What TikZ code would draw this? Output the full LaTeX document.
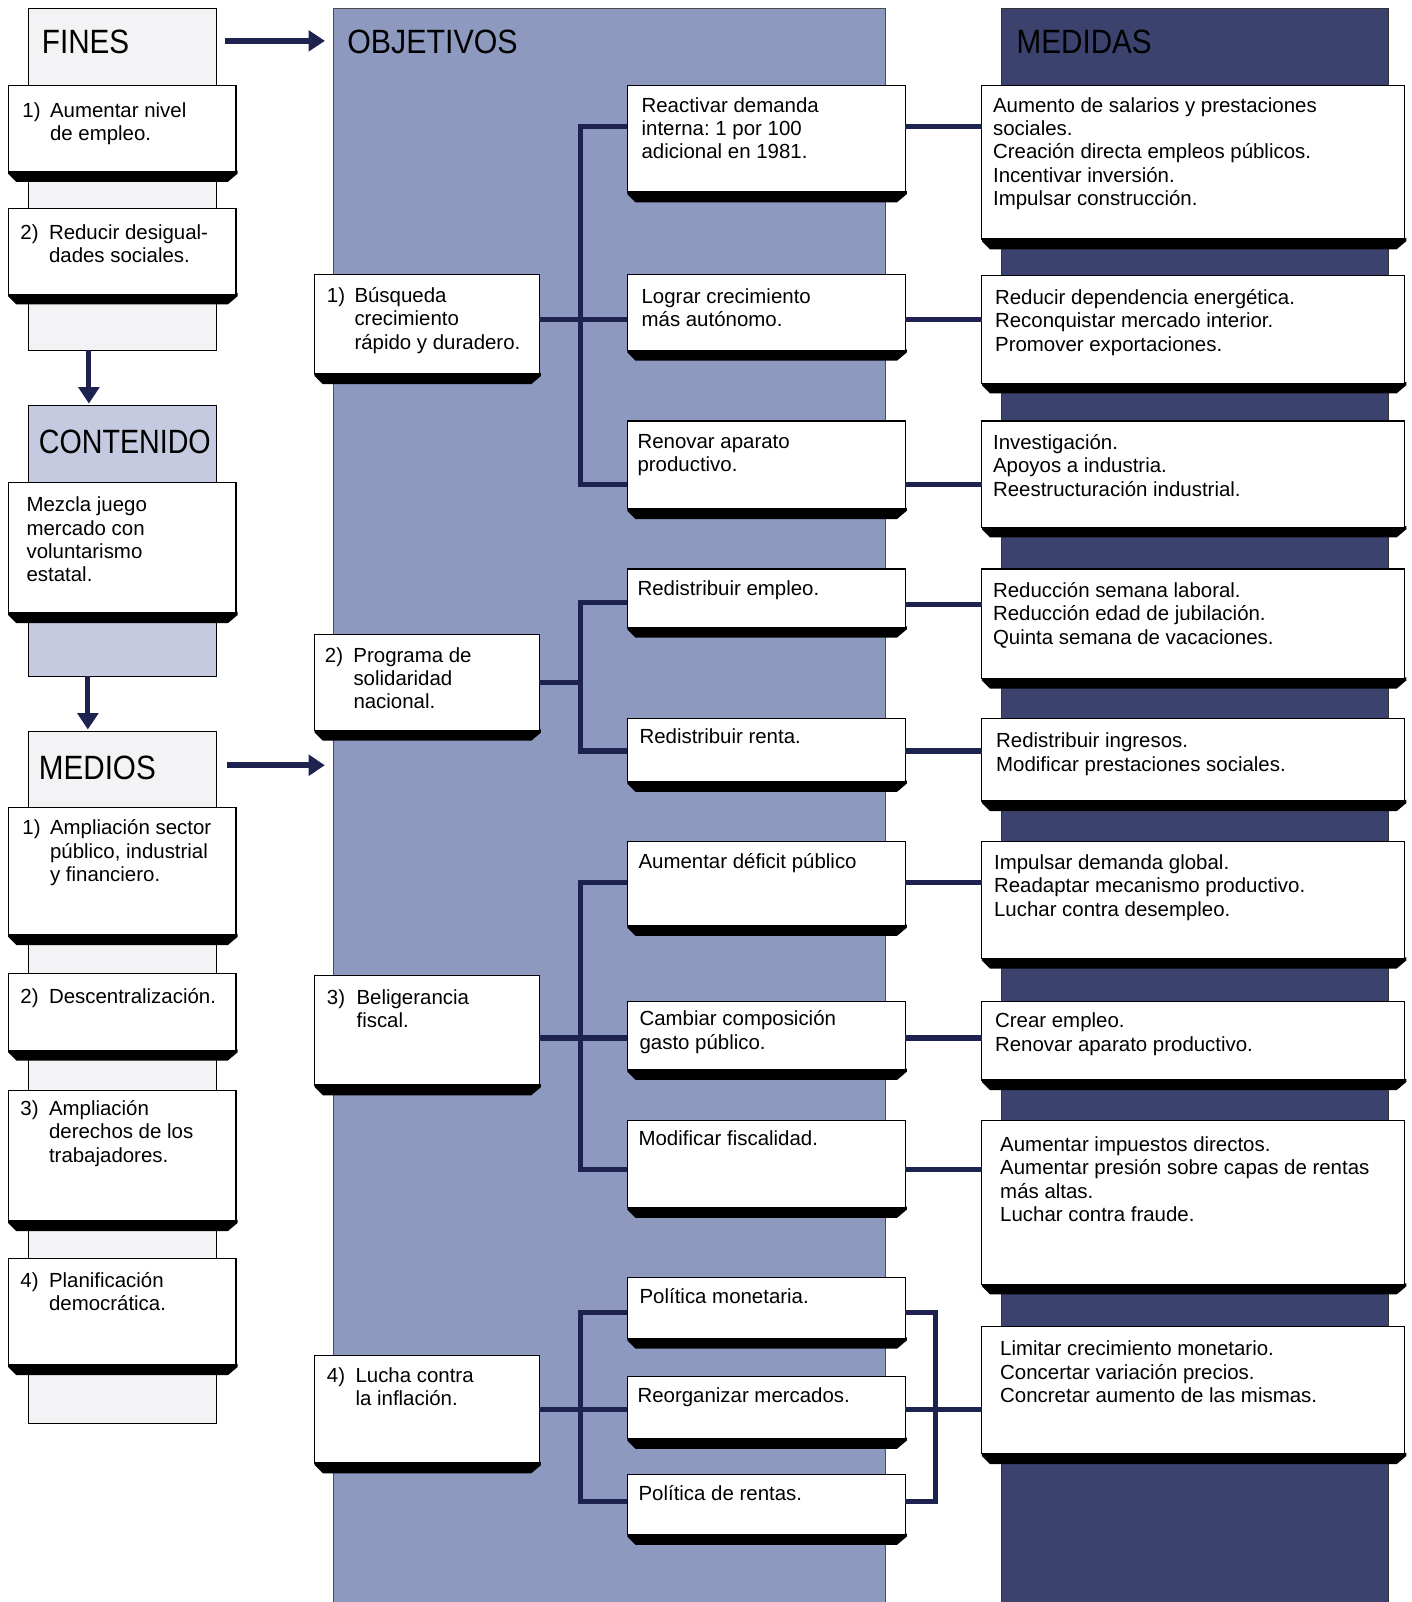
\documentclass[tikz,border=0pt]{standalone}
\usepackage{fontspec}
\setmainfont{Liberation Sans}
\usetikzlibrary{arrows.meta,calc}
\definecolor{objc}{RGB}{141,153,191}
\definecolor{medc}{RGB}{60,66,110}
\definecolor{contc}{RGB}{198,202,224}
\definecolor{tabc}{RGB}{243,243,245}
\definecolor{navy}{RGB}{30,34,78}
\newcommand\bfnt{\fontsize{20}{22.8}\selectfont}
\newcommand\hfnt{\fontsize{33}{36}\selectfont}
\newcommand\nb[1]{\makebox[27pt][l]{#1}}
\newcommand\ib{\hspace*{27pt}}
\frenchspacing
\tikzset{
  boxst/.style={draw=black, line width=1.2pt, fill=white, inner sep=0pt, outer sep=0pt},
  tabst/.style={draw=black, line width=1pt, inner sep=0pt, outer sep=0pt, anchor=north west},
  panelst/.style={inner sep=0pt, outer sep=0pt, anchor=north west},
  conn/.style={draw=navy, line width=5pt, line join=miter},
  arr/.style={draw=navy, line width=6pt, -{Triangle[length=16pt,width=20pt]}},
  txtst/.style={anchor=base west, inner sep=0pt, outer sep=0pt, font=\bfnt},
  headst/.style={anchor=base west, inner sep=0pt, outer sep=0pt, font=\hfnt}
}
\newcommand\mybox[5]{%
  \fill[black] (#2,#5-1) -- (#4+1.5,#5-1) -- (#4+1.5,#5+2) -- (#4-8,#5+10) -- (#2+8,#5+10) -- (#2,#5+2) -- cycle;
  \node[boxst, minimum width={#4-#2}, minimum height={#5-#3}, anchor=north west] (#1) at (#2,#3) {};}
\newcommand\txt[4]{\node[txtst] (#1) at (#2,#3) {\begin{tabular}[t]{@{}l@{}}#4\end{tabular}};}
\begin{document}
\begin{tikzpicture}[x=1pt,y=-1pt]
\useasboundingbox (0,0) rectangle (1382,1568);
\fill[white] (0,0) rectangle (1382,1568);
% panels
\node[panelst, fill=objc, minimum width=541, minimum height=1560] (objP) at (326,8) {};
\draw[black!70, line width=1pt] (objP.south west) -- (objP.north west) -- (objP.north east) -- (objP.south east);
\node[panelst, fill=medc, minimum width=379, minimum height=1560] (medP) at (980,8) {};
\draw[black!80, line width=1pt] (medP.south west) -- (medP.north west) -- (medP.north east) -- (medP.south east);
% left tabs
\node[tabst, fill=tabc, minimum width=184, minimum height=335] (finesTab) at (28,8) {};
\node[tabst, fill=contc, minimum width=184, minimum height=265] (contTab) at (28,397) {};
\node[tabst, fill=tabc, minimum width=184, minimum height=677] (mediosTab) at (28,716) {};
% headers
\node[headst] (hFines) at (41,52) {\scalebox{0.88}[1]{FINES}};
\node[headst] (hObj) at (340,52) {\scalebox{0.9}[1]{OBJETIVOS}};
\node[headst] (hMed) at (995,52) {\scalebox{0.88}[1]{MEDIDAS}};
\node[headst] (hCont) at (38,444) {\scalebox{0.85}[1]{CONTENIDO}};
\node[headst] (hMedios) at (38,763) {\scalebox{0.88}[1]{MEDIOS}};
% arrows
\draw[arr, shorten >=8pt] ($(finesTab.north east)+(8,32)$) -- ($(objP.west |- finesTab.north east)+(0,32)$);
\draw[arr, shorten >=8pt] ($(mediosTab.north east)+(10,33)$) -- ($(objP.west |- mediosTab.north east)+(0,33)$);
\draw[arr, line width=5pt, shorten >=2pt] ($(finesTab.south west)+(59,0)$) -- ($(contTab.north west)+(59,0)$);
\draw[arr, line width=5pt, shorten >=2pt] ($(contTab.south west)+(58,0)$) -- ($(mediosTab.north west)+(58,0)$);
% boxes: left column
\mybox{f1}{8}{84}{231}{168}
\mybox{f2}{8}{204}{231}{288}
\mybox{c1}{8}{472}{231}{600}
\mybox{m1}{8}{790}{231}{915}
\mybox{m2}{8}{953}{231}{1028}
\mybox{m3}{8}{1067}{231}{1195}
\mybox{m4}{8}{1232}{231}{1336}
% objective boxes
\mybox{o1}{308}{269}{528}{366}
\mybox{o2}{308}{621}{528}{715}
\mybox{o3}{308}{955}{528}{1062}
\mybox{o4}{308}{1327}{528}{1432}
% sub-objective boxes
\mybox{s1}{614}{84}{886}{188}
\mybox{s2}{614}{269}{886}{343}
\mybox{s3}{614}{412}{886}{498}
\mybox{s4}{614}{557}{886}{614}
\mybox{s5}{614}{703}{886}{765}
\mybox{s6}{614}{824}{886}{906}
\mybox{s7}{614}{980}{886}{1047}
\mybox{s8}{614}{1097}{886}{1182}
\mybox{s9}{614}{1250}{886}{1310}
\mybox{s10}{614}{1347}{886}{1408}
\mybox{s11}{614}{1443}{886}{1502}
% medidas boxes
\mybox{d1}{961}{84}{1375}{234}
\mybox{d2}{961}{270}{1375}{375}
\mybox{d3}{961}{412}{1375}{516}
\mybox{d4}{961}{557}{1375}{664}
\mybox{d5}{961}{703}{1375}{784}
\mybox{d6}{961}{824}{1375}{938}
\mybox{d7}{961}{980}{1375}{1057}
\mybox{d8}{961}{1097}{1375}{1257}
\mybox{d9}{961}{1298}{1375}{1423}
% connectors
\draw[conn] (s1.west |- 0,124) -| (568,474) -- (s3.west |- 0,474);
\draw[conn] (o1.east |- 0,313) -- (s2.west |- 0,313);
\draw[conn] (s4.west |- 0,590) -| (568,735) -- (s5.west |- 0,735);
\draw[conn] (o2.east |- 0,668) -- (568,668);
\draw[conn] (s6.west |- 0,864) -| (568,1145) -- (s8.west |- 0,1145);
\draw[conn] (o3.east |- 0,1016) -- (s7.west |- 0,1016);
\draw[conn] (s9.west |- 0,1285) -| (568,1470) -- (s11.west |- 0,1470);
\draw[conn] (o4.east |- 0,1380) -- (s10.west |- 0,1380);
\draw[conn] (s9.east |- 0,1285) -| (916,1470) -- (s11.east |- 0,1470);
\draw[conn] (s10.east |- 0,1380) -- (d9.west |- 0,1380);
\draw[conn] (s1.east |- 0,124) -- (d1.west |- 0,124);
\draw[conn] (s2.east |- 0,313) -- (d2.west |- 0,313);
\draw[conn] (s3.east |- 0,474) -- (d3.west |- 0,474);
\draw[conn] (s4.east |- 0,592) -- (d4.west |- 0,592);
\draw[conn] (s5.east |- 0,735) -- (d5.west |- 0,735);
\draw[conn] (s6.east |- 0,864) -- (d6.west |- 0,864);
\draw[conn] (s7.east |- 0,1016) -- (d7.west |- 0,1016);
\draw[conn] (s8.east |- 0,1145) -- (d8.west |- 0,1145);
% texts left
\txt{tf1}{22}{115}{\nb{1)}Aumentar nivel\\\ib de empleo.}
\txt{tf2}{20}{234}{\makebox[28pt][l]{2)}Reducir desigual-\\\hspace*{28pt}dades sociales.}
\txt{tc1}{26}{501}{Mezcla juego\\mercado con\\voluntarismo\\estatal.}
\txt{tm1}{22}{817}{\nb{1)}Ampliación sector\\\ib público, industrial\\\ib y financiero.}
\txt{tm2}{20}{982}{\makebox[28pt][l]{2)}Descentralización.}
\txt{tm3}{20}{1092}{\makebox[28pt][l]{3)}Ampliación\\\hspace*{28pt}derechos de los\\\hspace*{28pt}trabajadores.}
\txt{tm4}{20}{1260}{\makebox[28pt][l]{4)}Planificación\\\hspace*{28pt}democrática.}
% texts objectives
\txt{to1}{320}{296}{\nb{1)}Búsqueda\\\ib crecimiento\\\ib rápido y duradero.}
\txt{to2}{318}{648}{\makebox[28pt][l]{2)}Programa de\\\hspace*{28pt}solidaridad\\\hspace*{28pt}nacional.}
\txt{to3}{320}{983}{\makebox[29pt][l]{3)}Beligerancia\\\hspace*{29pt}fiscal.}
\txt{to4}{320}{1353}{\makebox[28pt][l]{4)}Lucha contra\\\hspace*{28pt}la inflación.}
% texts sub-objectives
\txt{ts1}{628}{110}{Reactivar demanda\\interna: 1 por 100\\adicional en 1981.}
\txt{ts2}{628}{297}{Lograr crecimiento\\más autónomo.}
\txt{ts3}{624}{439}{Renovar aparato\\productivo.}
\txt{ts4}{624}{583}{Redistribuir empleo.}
\txt{ts5}{626}{728}{Redistribuir renta.}
\txt{ts6}{625}{850}{Aumentar déficit público}
\txt{ts7}{626}{1004}{Cambiar composición\\gasto público.}
\txt{ts8}{625}{1121}{Modificar fiscalidad.}
\txt{ts9}{626}{1276}{Política monetaria.}
\txt{ts10}{624}{1373}{Reorganizar mercados.}
\txt{ts11}{625}{1469}{Política de rentas.}
% texts medidas
\txt{td1}{972}{110}{Aumento de salarios y prestaciones\\sociales.\\Creación directa empleos públicos.\\Incentivar inversión.\\Impulsar construcción.}
\txt{td2}{974}{298}{Reducir dependencia energética.\\Reconquistar mercado interior.\\Promover exportaciones.}
\txt{td3}{972}{440}{Investigación.\\Apoyos a industria.\\Reestructuración industrial.}
\txt{td4}{972}{585}{Reducción semana laboral.\\Reducción edad de jubilación.\\Quinta semana de vacaciones.}
\txt{td5}{975}{732}{Redistribuir ingresos.\\Modificar prestaciones sociales.}
\txt{td6}{973}{851}{Impulsar demanda global.\\Readaptar mecanismo productivo.\\Luchar contra desempleo.}
\txt{td7}{974}{1006}{Crear empleo.\\Renovar aparato productivo.}
\txt{td8}{979}{1127}{Aumentar impuestos directos.\\Aumentar presión sobre capas de rentas\\más altas.\\Luchar contra fraude.}
\txt{td9}{979}{1327}{Limitar crecimiento monetario.\\Concertar variación precios.\\Concretar aumento de las mismas.}
\end{tikzpicture}
\end{document}
